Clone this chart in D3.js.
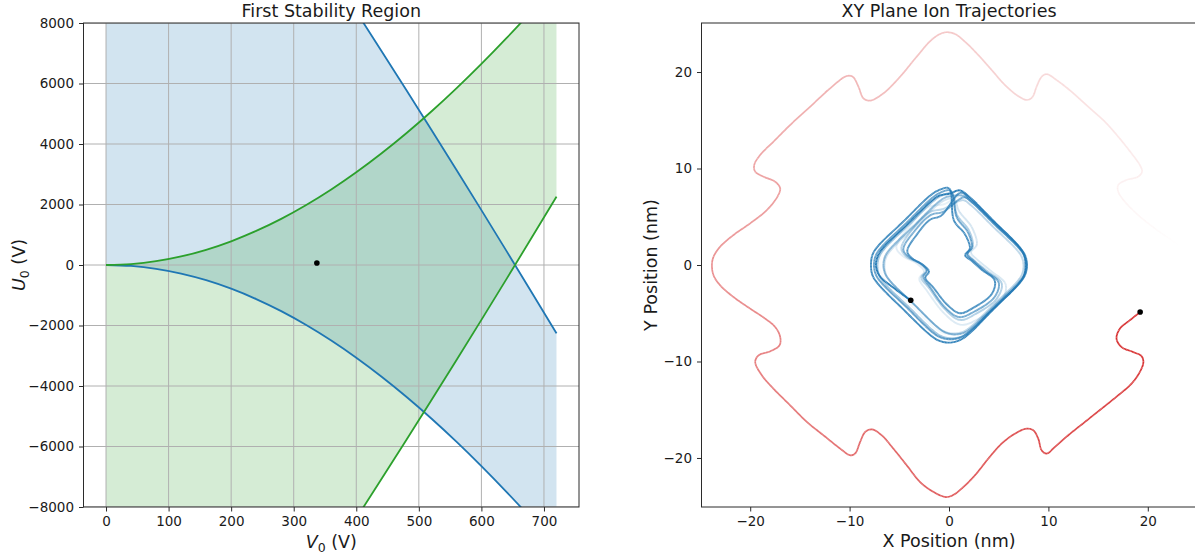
<!DOCTYPE html>
<html>
<head>
<meta charset="utf-8">
<script src="https://cdn.jsdelivr.net/npm/d3@7"></script>
<style>
  body { margin: 0; background: #fff; }
  svg { display: block; font-family: "DejaVu Sans", sans-serif; }
</style>
</head>
<body>
<svg id="chart" width="1195" height="556"></svg>
<script>
// ---------- First stability region (Mathieu boundaries in V0/U0 space) ----------
const rfVoltage = [0, 40, 80, 120, 160, 200, 240, 280, 320, 360, 400, 440, 480, 520, 560, 600, 640, 680, 720];
// x-direction boundaries: a0 (lower) and b1 (upper)
const xLowerU = [0, -32, -126, -284, -503, -784, -1126, -1525, -1983, -2496, -3064, -3684, -4354, -5073, -5838, -6646, -7497, -8387, -9312];
const xUpperU = [20500, 19353, 18191, 17014, 15821, 14615, 13394, 12159, 10910, 9648, 8374, 7086, 5786, 4474, 3150, 1814, 467, -891, -2260];
// y-direction boundaries: -b1 (lower) and -a0 (upper)
const yLowerU = [-20500, -19353, -18191, -17014, -15821, -14615, -13394, -12159, -10910, -9648, -8374, -7086, -5786, -4474, -3150, -1814, -467, 891, 2260];
const yUpperU = [0, 32, 126, 284, 503, 784, 1126, 1525, 1983, 2496, 3064, 3684, 4354, 5073, 5838, 6646, 7497, 8387, 9312];
const operatingPoint = [337, 65];
const voltageTicks = [0, 100, 200, 300, 400, 500, 600, 700];
const dcTicks = [-8000, -6000, -4000, -2000, 0, 2000, 4000, 6000, 8000];

// ---------- XY ion trajectories (nm), oldest point first ----------
const unstableIon = [
  [23.55,1.73],[22.38,2.59],[20.70,3.80],[19.03,5.18],[17.69,6.56],[17.02,7.60],[17.02,8.29],[17.86,8.81],
  [19.03,9.15],[19.43,9.67],[19.20,10.36],[18.36,11.57],[17.02,13.30],[15.68,14.85],[14.00,16.40],[12.33,17.96],
  [10.82,19.17],[9.82,19.79],[9.32,19.51],[8.81,18.48],[8.38,17.38],[7.81,17.10],[6.80,17.62],[5.63,18.65],
  [4.29,20.21],[2.95,21.76],[1.61,23.14],[0.60,23.94],[-0.40,24.11],[-1.58,23.49],[-3.25,21.59],[-4.92,19.51],
  [-6.60,17.79],[-7.94,17.03],[-8.61,17.27],[-9.11,18.48],[-9.68,19.51],[-10.28,19.59],[-11.96,18.31],[-13.97,16.40],
  [-15.98,14.51],[-17.66,12.78],[-19.00,11.40],[-19.60,10.36],[-19.50,9.67],[-18.66,9.15],[-17.49,8.63],[-16.98,7.95],
  [-17.26,7.08],[-18.32,5.70],[-20.00,4.32],[-21.68,3.11],[-23.02,1.90],[-23.69,0.86],[-23.85,0.00],[-23.69,-1.07],
  [-23.02,-2.11],[-21.68,-3.32],[-20.00,-4.53],[-18.49,-5.56],[-17.49,-6.42],[-16.98,-7.46],[-17.05,-8.33],[-17.99,-8.95],
  [-19.16,-9.36],[-19.50,-10.05],[-18.83,-11.43],[-17.66,-12.82],[-15.98,-14.54],[-14.30,-16.27],[-12.63,-17.65],[-10.95,-19.03],
  [-9.95,-19.72],[-9.45,-19.55],[-8.94,-18.34],[-8.44,-17.31],[-7.77,-17.03],[-6.77,-17.65],[-5.60,-19.03],[-4.25,-20.76],
  [-2.91,-22.49],[-1.57,-23.52],[-0.30,-24.05],[0.40,-23.85],[1.27,-23.18],[2.61,-21.80],[3.95,-20.07],[5.29,-18.52],
  [6.63,-17.48],[7.81,-16.96],[8.48,-17.13],[8.98,-18.00],[9.32,-19.21],[9.82,-19.55],[10.65,-18.86],[11.99,-17.65],
  [13.67,-16.27],[15.35,-14.89],[17.02,-13.51],[18.36,-12.30],[19.20,-11.09],[19.56,-10.05],[19.36,-9.43],[18.53,-9.02],
  [17.35,-8.50],[16.85,-7.63],[17.19,-6.60],[18.19,-5.73],[19.23,-4.87]
];
const stableIon = [
  // turn 1
  [0.30,7.40],[-0.72,7.20],[-1.58,6.62],[-3.90,4.30],[-6.22,1.98],[-6.80,1.12],[-7.00,0.10],[-6.80,-0.92],
  [-6.22,-1.78],[-3.90,-4.10],[-1.58,-6.42],[-0.72,-7.00],[0.30,-7.20],[1.32,-7.00],[2.18,-6.42],[4.50,-4.10],
  [6.82,-1.78],[7.40,-0.92],[7.60,0.10],[7.40,1.12],[6.82,1.98],[4.50,4.30],[2.18,6.62],[1.32,7.20],
  // turn 2
  [-0.50,6.30],[-2.10,6.00],[-3.90,4.10],[-5.30,1.80],[-4.60,0.90],[-3.30,0.20],[-2.50,-0.70],[-3.00,-1.40],
  [-2.20,-2.70],[-0.40,-5.10],[1.20,-6.20],[3.10,-5.50],[5.30,-3.70],[5.70,-2.00],[4.20,-0.60],[2.80,0.60],
  [2.20,1.30],[2.80,2.10],[2.30,3.90],[1.00,5.60],
  // turn 3
  [0.50,6.90],[-0.42,6.72],[-1.21,6.19],[-3.50,3.90],[-5.79,1.61],[-6.32,0.82],[-6.50,-0.10],[-6.32,-1.02],
  [-5.79,-1.81],[-3.50,-4.10],[-1.21,-6.39],[-0.42,-6.92],[0.50,-7.10],[1.42,-6.92],[2.21,-6.39],[4.50,-4.10],
  [6.79,-1.81],[7.32,-1.02],[7.50,-0.10],[7.32,0.82],[6.79,1.61],[4.50,3.90],[2.21,6.19],[1.42,6.72],
  // turn 4
  [-0.60,5.80],[-1.90,5.50],[-3.60,3.80],[-4.80,1.70],[-4.20,0.80],[-3.00,0.20],[-2.30,-0.60],[-2.80,-1.30],
  [-2.00,-2.40],[-0.40,-4.60],[1.10,-5.70],[2.80,-5.00],[4.80,-3.50],[5.30,-1.90],[3.80,-0.60],[2.50,0.50],
  [1.90,1.20],[2.40,1.90],[2.00,3.60],[0.80,5.20],
  // turn 5
  [0.30,7.40],[-0.72,7.20],[-1.58,6.62],[-4.00,4.20],[-6.42,1.78],[-7.00,0.92],[-7.20,-0.10],[-7.00,-1.12],
  [-6.42,-1.98],[-4.00,-4.40],[-1.58,-6.82],[-0.72,-7.40],[0.30,-7.60],[1.32,-7.40],[2.18,-6.82],[4.60,-4.40],
  [7.02,-1.98],[7.60,-1.12],[7.80,-0.10],[7.60,0.92],[7.02,1.78],[4.60,4.20],[2.18,6.62],[1.32,7.20],
  // turn 6
  [0.60,7.20],[-0.32,7.02],[-1.11,6.49],[-3.50,4.10],[-5.89,1.71],[-6.42,0.92],[-6.60,0.00],[-6.42,-0.92],
  [-5.89,-1.71],[-3.50,-4.10],[-1.11,-6.49],[-0.32,-7.02],[0.60,-7.20],[1.52,-7.02],[2.31,-6.49],[4.70,-4.10],
  [7.09,-1.71],[7.62,-0.92],[7.80,0.00],[7.62,0.92],[7.09,1.71],[4.70,4.10],[2.31,6.49],[1.52,7.02],
  // turn 7
  [-0.60,5.50],[-1.80,5.20],[-3.40,3.60],[-4.60,1.60],[-4.00,0.80],[-2.90,0.20],[-2.20,-0.60],[-2.60,-1.20],
  [-1.90,-2.30],[-0.40,-4.40],[1.00,-5.40],[2.60,-4.80],[4.60,-3.30],[5.00,-1.80],[3.60,-0.60],[2.40,0.50],
  [1.80,1.10],[2.30,1.80],[1.90,3.40],[0.80,4.90],
  // turn 8
  [0.15,7.70],[-0.87,7.50],[-1.73,6.92],[-4.25,4.40],[-6.77,1.88],[-7.35,1.02],[-7.55,0.00],[-7.35,-1.02],
  [-6.77,-1.88],[-4.25,-4.40],[-1.73,-6.92],[-0.87,-7.50],[0.15,-7.70],[1.17,-7.50],[2.03,-6.92],[4.55,-4.40],
  [7.07,-1.88],[7.65,-1.02],[7.85,0.00],[7.65,1.02],[7.07,1.88],[4.55,4.40],[2.03,6.92],[1.17,7.50],
  // turn 9
  [-0.80,5.10],[-1.90,4.70],[-3.20,3.20],[-4.20,1.40],[-3.60,0.60],[-2.60,0.00],[-2.00,-0.70],[-2.40,-1.30],
  [-1.60,-2.30],[-0.20,-4.10],[1.10,-5.00],[2.50,-4.40],[4.30,-3.00],[4.60,-1.60],[3.30,-0.50],[2.20,0.50],
  [1.60,1.00],[2.10,1.70],[1.60,3.20],[0.50,4.60],
  // turn 10
  [0.00,7.95],[-1.06,7.74],[-1.96,7.14],[-4.55,4.55],[-7.14,1.96],[-7.70,1.06],[-7.85,0.00],[-7.70,-1.06],
  [-7.14,-1.96],[-4.60,-4.60],[-1.96,-7.20],[-1.06,-7.82],[0.00,-8.05],[1.06,-7.80],[1.96,-7.18],[4.50,-4.55],
  [7.00,-1.96],[7.55,-1.06],[7.70,0.00],[7.55,1.06],[7.00,1.96],[4.50,4.55],[1.96,7.14],[1.06,7.74],
  // last partial turn
  [0.10,7.40],[-0.95,7.20],[-1.80,6.60],[-4.20,4.20],[-6.60,1.80],[-7.15,0.95],[-7.35,0.00],[-7.00,-1.10],
  [-5.40,-2.50],[-3.85,-3.66]
];
const positionTicks = [-20, -10, 0, 10, 20];

// ---------- drawing ----------
const svg = d3.select("#chart");
const ink = "#1a1a1a";
const spine = "#2b2b2b";
const tabBlue = "#1f77b4", tabGreen = "#2ca02c", tabRed = "#d62728";
const labelSize = 17.5, tickSize = 13.5;

function styleAxis(g) {
  g.select(".domain").remove();
  g.selectAll(".tick line").attr("stroke", spine).attr("stroke-width", 1);
  g.selectAll(".tick text").attr("fill", ink).attr("font-size", tickSize)
    .attr("font-family", '"DejaVu Sans", sans-serif');
}

// ===== left panel =====
const L = { x0: 83.5, x1: 579, y0: 23, y1: 507 };
const xV = d3.scaleLinear().domain([-36, 756]).range([L.x0, L.x1]);
const yU = d3.scaleLinear().domain([-8000, 8000]).range([L.y1, L.y0]);

svg.append("clipPath").attr("id", "clipLeft")
  .append("rect").attr("x", L.x0).attr("y", L.y0).attr("width", L.x1 - L.x0).attr("height", L.y1 - L.y0);

const left = svg.append("g");
const plotL = left.append("g").attr("clip-path", "url(#clipLeft)");

const xRegion = rfVoltage.map((v, i) => ({ v, lo: xLowerU[i], hi: xUpperU[i] }));
const yRegion = rfVoltage.map((v, i) => ({ v, lo: yLowerU[i], hi: yUpperU[i] }));
const area = d3.area().x(d => xV(d.v)).y0(d => yU(d.lo)).y1(d => yU(d.hi)).curve(d3.curveMonotoneX);

plotL.append("path").datum(xRegion).attr("d", area).attr("fill", tabBlue).attr("fill-opacity", 0.2);
plotL.append("path").datum(yRegion).attr("d", area).attr("fill", tabGreen).attr("fill-opacity", 0.2);

// grid
plotL.append("g").selectAll("line").data(voltageTicks).join("line")
  .attr("x1", d => xV(d)).attr("x2", d => xV(d)).attr("y1", L.y0).attr("y2", L.y1)
  .attr("stroke", "#b0b0b0").attr("stroke-width", 1);
plotL.append("g").selectAll("line").data(dcTicks).join("line")
  .attr("y1", d => yU(d)).attr("y2", d => yU(d)).attr("x1", L.x0).attr("x2", L.x1)
  .attr("stroke", "#b0b0b0").attr("stroke-width", 1);

const boundary = key => d3.line().x(d => xV(d.v)).y(d => yU(d[key])).curve(d3.curveMonotoneX);
plotL.append("path").datum(xRegion).attr("d", boundary("lo")).attr("fill", "none").attr("stroke", tabBlue).attr("stroke-width", 1.8);
plotL.append("path").datum(xRegion).attr("d", boundary("hi")).attr("fill", "none").attr("stroke", tabBlue).attr("stroke-width", 1.8);
plotL.append("path").datum(yRegion).attr("d", boundary("lo")).attr("fill", "none").attr("stroke", tabGreen).attr("stroke-width", 1.8);
plotL.append("path").datum(yRegion).attr("d", boundary("hi")).attr("fill", "none").attr("stroke", tabGreen).attr("stroke-width", 1.8);

plotL.append("circle").attr("cx", xV(operatingPoint[0])).attr("cy", yU(operatingPoint[1])).attr("r", 2.8).attr("fill", "#000");

left.append("rect").attr("x", L.x0).attr("y", L.y0).attr("width", L.x1 - L.x0).attr("height", L.y1 - L.y0)
  .attr("fill", "none").attr("stroke", spine).attr("stroke-width", 1);

left.append("g").attr("transform", `translate(0,${L.y1})`)
  .call(d3.axisBottom(xV).tickValues(voltageTicks).tickSize(4.5).tickPadding(4.5).tickFormat(d3.format("d")))
  .call(styleAxis);
left.append("g").attr("transform", `translate(${L.x0},0)`)
  .call(d3.axisLeft(yU).tickValues(dcTicks).tickSize(4.5).tickPadding(5).tickFormat(d3.format("d")))
  .call(styleAxis);

left.append("text").attr("x", (L.x0 + L.x1) / 2).attr("y", 17).attr("text-anchor", "middle")
  .attr("font-size", labelSize).attr("fill", ink).text("First Stability Region");

const xlabL = left.append("text").attr("x", (L.x0 + L.x1) / 2).attr("y", 548).attr("text-anchor", "middle")
  .attr("font-size", labelSize).attr("fill", ink);
xlabL.append("tspan").attr("font-style", "italic").text("V");
xlabL.append("tspan").attr("font-size", 12.5).attr("dy", 3.5).text("0");
xlabL.append("tspan").attr("dy", -3.5).text(" (V)");

const ylabL = left.append("text").attr("transform", `translate(25,${(L.y0 + L.y1) / 2}) rotate(-90)`)
  .attr("text-anchor", "middle").attr("font-size", labelSize).attr("fill", ink);
ylabL.append("tspan").attr("font-style", "italic").text("U");
ylabL.append("tspan").attr("font-size", 12.5).attr("dy", 3.5).text("0");
ylabL.append("tspan").attr("dy", -3.5).text(" (V)");

// ===== right panel =====
const R = { x0: 701.5, x1: 1196.5, y0: 23, y1: 507 };
const xP = d3.scaleLinear().domain([-24.9, 24.9]).range([R.x0, R.x1]);
const yP = d3.scaleLinear().domain([-25.08, 25.08]).range([R.y1, R.y0]);

svg.append("clipPath").attr("id", "clipRight")
  .append("rect").attr("x", R.x0).attr("y", R.y0).attr("width", R.x1 - R.x0).attr("height", R.y1 - R.y0);
const right = svg.append("g");
const plotR = right.append("g").attr("clip-path", "url(#clipRight)");

// Trajectory drawn as short pieces whose opacity grows with time
function fadingTrail(g, pts, color, width) {
  const line = d3.line().x(d => xP(d[0])).y(d => yP(d[1])).curve(d3.curveCatmullRom.alpha(0.5));
  const guide = g.append("path").attr("d", line(pts)).attr("fill", "none").attr("stroke", "none");
  const node = guide.node();
  const total = node.getTotalLength();
  const n = Math.ceil(total / 1.5);
  const trail = g.append("g").attr("stroke", color).attr("stroke-width", width).attr("stroke-linecap", "butt");
  let prev = node.getPointAtLength(0);
  for (let i = 1; i <= n; i++) {
    const p = node.getPointAtLength(total * i / n);
    trail.append("line").attr("x1", prev.x).attr("y1", prev.y).attr("x2", p.x).attr("y2", p.y)
      .attr("stroke-opacity", i / n);
    prev = p;
  }
  guide.remove();
}
fadingTrail(plotR, unstableIon, tabRed, 1.7);
fadingTrail(plotR, stableIon, tabBlue, 1.9);

const lastRed = unstableIon[unstableIon.length - 1];
const lastBlue = stableIon[stableIon.length - 1];
plotR.append("circle").attr("cx", xP(lastRed[0])).attr("cy", yP(lastRed[1])).attr("r", 2.8).attr("fill", "#000");
plotR.append("circle").attr("cx", xP(lastBlue[0])).attr("cy", yP(lastBlue[1])).attr("r", 2.8).attr("fill", "#000");

right.append("rect").attr("x", R.x0).attr("y", R.y0).attr("width", R.x1 - R.x0).attr("height", R.y1 - R.y0)
  .attr("fill", "none").attr("stroke", spine).attr("stroke-width", 1);

right.append("g").attr("transform", `translate(0,${R.y1})`)
  .call(d3.axisBottom(xP).tickValues(positionTicks).tickSize(4.5).tickPadding(4.5).tickFormat(d3.format("d")))
  .call(styleAxis);
right.append("g").attr("transform", `translate(${R.x0},0)`)
  .call(d3.axisLeft(yP).tickValues(positionTicks).tickSize(4.5).tickPadding(5).tickFormat(d3.format("d")))
  .call(styleAxis);

right.append("text").attr("x", (R.x0 + R.x1) / 2).attr("y", 17).attr("text-anchor", "middle")
  .attr("font-size", labelSize).attr("fill", ink).text("XY Plane Ion Trajectories");
right.append("text").attr("x", (R.x0 + R.x1) / 2).attr("y", 547).attr("text-anchor", "middle")
  .attr("font-size", labelSize).attr("fill", ink).text("X Position (nm)");
right.append("text").attr("transform", `translate(657,${(R.y0 + R.y1) / 2}) rotate(-90)`)
  .attr("text-anchor", "middle").attr("font-size", labelSize).attr("fill", ink).text("Y Position (nm)");
</script>
</body>
</html>
